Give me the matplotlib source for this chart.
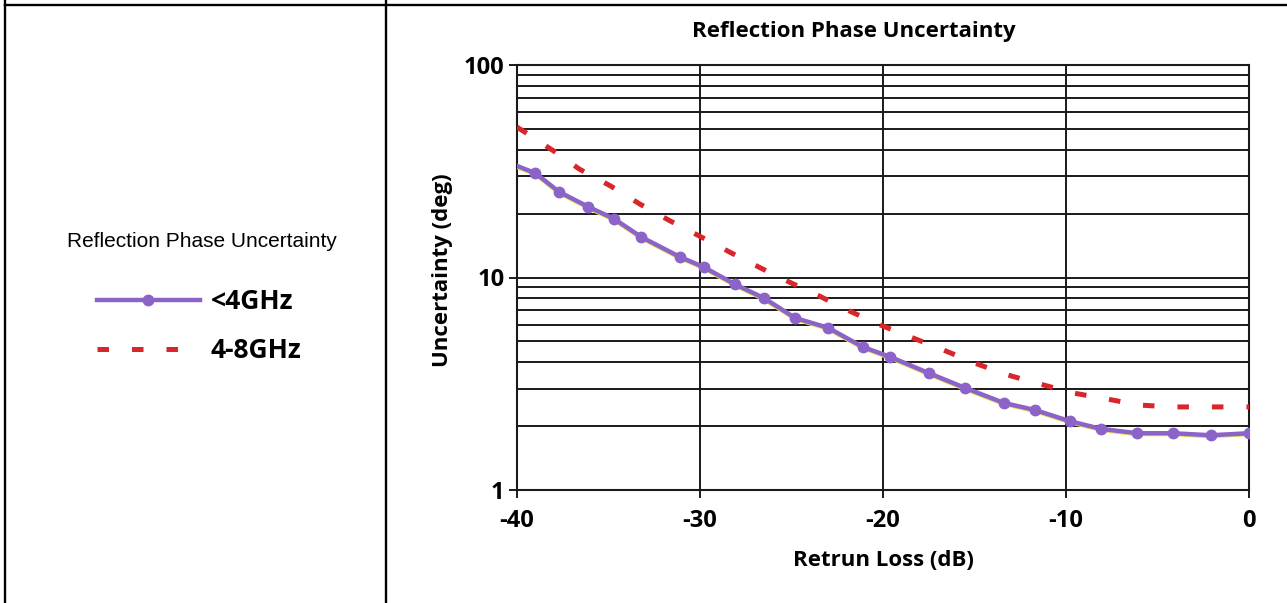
import matplotlib
matplotlib.use("Agg")
import matplotlib.pyplot as plt
import matplotlib.transforms as mtransforms
from matplotlib.lines import Line2D
from matplotlib.ticker import FixedLocator, NullFormatter

plt.rcParams["axes.unicode_minus"] = False

# return loss (dB) and phase uncertainty (deg)
rl_low = [-40, -39.0, -37.7, -36.1, -34.7, -33.2, -31.1, -29.8, -28.1, -26.5, -24.8,
          -23.0, -21.1, -19.6, -17.5, -15.5, -13.4, -11.7, -9.8, -8.1, -6.1,
          -4.15, -2.1, 0]
unc_low = [33.5, 31.0, 25.3, 21.5, 18.9, 15.5, 12.5, 11.2, 9.3, 8.0, 6.45,
           5.8, 4.71, 4.23, 3.55, 3.02, 2.57, 2.38, 2.11, 1.94, 1.85,
           1.85, 1.81, 1.85]

rl_mid = [-40, -39.5, -38.0, -36.6, -34.9, -33.3, -31.6, -30.05, -28.4, -26.7, -25.1,
          -23.5, -21.9, -20.2, -18.5, -16.7, -15.0, -13.2, -11.4, -9.6, -7.75,
          -6.0, -4.2, -2.4, 0]
unc_mid = [51, 47.9, 39.4, 32.4, 27.0, 22.2, 18.4, 15.7, 13.2, 11.1, 9.5,
           8.2, 7.0, 6.0, 5.25, 4.56, 3.96, 3.48, 3.15, 2.86, 2.68,
           2.51, 2.46, 2.46, 2.46]

series_names = ["<4GHz", "4-8GHz"]
title = "Reflection Phase Uncertainty"
x_ticks = [-40, -30, -20, -10, 0]
y_ticks = [1, 10, 100]

purple = "#8b63c9"
red = "#d9262b"
bold_font = ["Open Sans", "DejaVu Sans"]
narrow_font = ["Liberation Sans Narrow", "Liberation Sans", "DejaVu Sans"]

W, H = 1287, 603
fig = plt.figure(figsize=(W / 100, H / 100), dpi=100)
ax = fig.add_axes([517 / W, 1 - 490 / H, (1249 - 517) / W, (490 - 65) / H])

ax.set_yscale("log")
ax.set_xlim(-40, 0)
ax.set_ylim(1, 100)

# thin yellow edge under the purple curve
shadow = mtransforms.offset_copy(ax.transData, fig=fig, x=-0.5, y=-1.5, units="dots")
ax.plot(rl_low, unc_low, color="#e8dc50", lw=2.2, transform=shadow, zorder=3)
l1, = ax.plot(rl_low, unc_low, color=purple, lw=3.2, marker="o", ms=7.5,
              markevery=list(range(1, len(rl_low))), zorder=4)
l2, = ax.plot(rl_mid, unc_mid, color=red, lw=3.6, dashes=(2.3, 4.6), zorder=4)

ax.xaxis.set_major_locator(FixedLocator(x_ticks))
ax.yaxis.set_major_locator(FixedLocator(y_ticks))
ax.set_yticklabels([str(v) for v in y_ticks])
minors = [m * d for d in (1, 10) for m in range(2, 10)]
ax.yaxis.set_minor_locator(FixedLocator(minors))
ax.yaxis.set_minor_formatter(NullFormatter())
ax.grid(True, which="both", axis="y", color="#1a1a1a", lw=1.4)
ax.grid(True, which="major", axis="x", color="#1a1a1a", lw=1.4)
ax.tick_params(which="minor", length=0)
ax.tick_params(which="major", length=6, width=1.4, color="#1a1a1a")
ax.tick_params(axis="x", pad=8)
ax.tick_params(axis="y", pad=3)
for s in ax.spines.values():
    s.set_color("#1a1a1a")
    s.set_linewidth(1.5)
for lab in ax.get_xticklabels() + ax.get_yticklabels():
    lab.set_family(bold_font)
    lab.set_fontweight("bold")
    lab.set_fontsize(17)

ax.set_title(title, family=bold_font, fontweight="bold", fontsize=16, pad=20,
             x=(854 - 517) / (1249 - 517))
ax.set_xlabel("Retrun Loss (dB)", family=bold_font, fontweight="bold", fontsize=16, labelpad=12)
ax.set_ylabel("Uncertainty (deg)", family=bold_font, fontweight="bold", fontsize=16)
ax.yaxis.set_label_coords(-0.088, (490 - 270) / (490 - 65))

# left cell: caption and legend
fig.text(202 / W, 1 - 242 / H, title, family=narrow_font, fontsize=15,
         ha="center", va="center")
fig.legend([l1, l2], series_names, loc="center left",
           bbox_to_anchor=(97 / W, 1 - 326 / H), frameon=False,
           borderpad=0, borderaxespad=0, handlelength=3.9, handletextpad=0.4,
           labelspacing=0.85, numpoints=1,
           prop={"family": bold_font, "weight": "bold", "size": 19})

# table borders
lw_tab = 1.7
fig.add_artist(Line2D([5 / W, 1], [1 - 5 / H, 1 - 5 / H], color="black", lw=lw_tab))
fig.add_artist(Line2D([5 / W, 5 / W], [0, 1], color="black", lw=lw_tab))
fig.add_artist(Line2D([386 / W, 386 / W], [0, 1], color="black", lw=lw_tab))

fig.savefig("out.png", dpi=100)
